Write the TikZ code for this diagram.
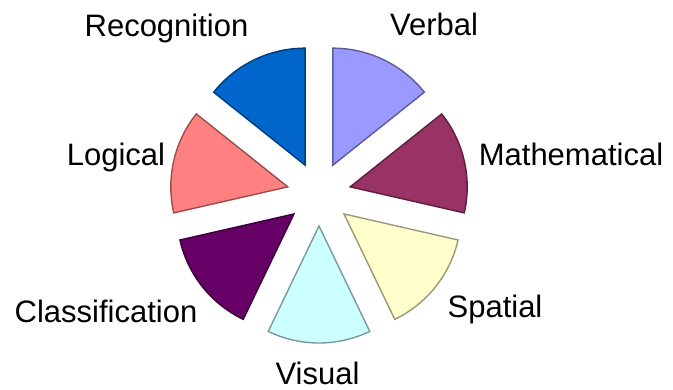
\documentclass[tikz,border=0pt]{standalone}
\usepackage{fontspec}
\setmainfont{Liberation Sans}
\usetikzlibrary{calc}
\definecolor{verbal}{RGB}{153,153,255}
\definecolor{math}{RGB}{153,51,102}
\definecolor{spatial}{RGB}{255,255,204}
\definecolor{visual}{RGB}{204,255,255}
\definecolor{classif}{RGB}{102,0,102}
\definecolor{logical}{RGB}{255,128,128}
\definecolor{recog}{RGB}{0,102,204}

\begin{document}
\begin{tikzpicture}[x=1pt,y=1pt,
 slice/.style={line width=1.4pt,line join=miter},
 lab/.style={anchor=base,inner sep=0pt,font=\fontsize{31}{36}\selectfont}]
\useasboundingbox (0,0) rectangle (673,390);
\coordinate (c) at (319,196);
% exploded pie, seven equal slices
\foreach \s/\e/\col in {38.57/90/verbal,-12.86/38.57/math,-64.29/-12.86/spatial,
 -115.71/-64.29/visual,-167.14/-115.71/classif,141.43/192.86/logical,90/141.43/recog}{
 \pgfmathsetmacro\m{(\s+\e)/2}
 \draw[slice,fill=\col,draw=\col!60!black] ($(c)+(\m:32)$) -- ++(\s:117)
  arc[start angle=\s,end angle=\e,radius=117] -- cycle;}
\node[lab] (recognition) at (166.5,353) {Recognition};
\node[lab] (verbal) at (434,354) {Verbal};
\node[lab] (logical) at (116,224) {Logical};
\node[lab] (mathematical) at (571,224) {Mathematical};
\node[lab] (classification) at (106,67) {Classification};
\node[lab] (spatial) at (495,72) {Spatial};
\node[lab] (visual) at (317.5,5) {Visual};
\end{tikzpicture}
\end{document}
